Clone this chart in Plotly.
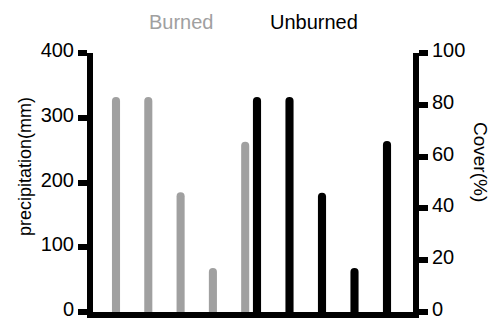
import plotly.graph_objects as go

sites = ["1", "2", "3", "4", "5"]
burned_precip = [332, 332, 185, 68, 263]      # mm, left axis
unburned_cover = [83, 83, 46, 17, 66]         # %, right axis
y_left_ticks = [0, 100, 200, 300, 400]
y_right_ticks = [0, 20, 40, 60, 80, 100]

GRAY = "#a0a0a0"
FONT = "Liberation Sans, Arial, sans-serif"

W, H = 497, 321
ML, MR, MT, MB = 93, 84, 53, 9
pw, ph = W - ML - MR, H - MT - MB

def px_x(x):
    return (x - ML) / pw

def px_y(y):
    return (H - MB - y) / ph

fig = go.Figure()
fig.add_trace(go.Bar(x=sites, y=burned_precip, name="Burned", marker_color=GRAY,
                     marker_line_width=0, width=0.25, xaxis="x", yaxis="y"))
fig.add_trace(go.Bar(x=sites, y=unburned_cover, name="Unburned", marker_color="black",
                     marker_line_width=0, width=0.25, xaxis="x2", yaxis="y2"))

axis_common = dict(showline=True, linewidth=6, linecolor="black", ticks="outside",
                   ticklen=9, tickwidth=6, tickcolor="black", showgrid=False,
                   zeroline=False, tickfont=dict(size=20, family=FONT),
                   ticklabeloverflow="allow", ticklabelshift=-3)

fig.update_layout(
    width=W, height=H,
    margin=dict(l=ML, r=MR, t=MT, b=MB, autoexpand=False),
    paper_bgcolor="white", plot_bgcolor="white",
    font=dict(family=FONT, color="black", size=20),
    showlegend=False,
    barcornerradius=4,
    xaxis=dict(type="category", range=[-0.712, 9.195], showline=True, linewidth=6,
               linecolor="black", ticks="", showticklabels=False, showgrid=False,
               zeroline=False, fixedrange=True),
    xaxis2=dict(type="category", overlaying="x", range=[-5.046, 4.8], visible=False),
    yaxis=dict(range=[0, 400], tickvals=y_left_ticks, **axis_common),
    yaxis2=dict(range=[0, 100], tickvals=y_right_ticks, overlaying="y", side="right",
                **axis_common),
    annotations=[
        dict(text="Burned", x=px_x(181.5), y=px_y(22), xref="paper", yref="paper",
             xanchor="center", yanchor="middle", showarrow=False,
             font=dict(size=20, color=GRAY, family=FONT)),
        dict(text="Unburned", x=px_x(313.5), y=px_y(22), xref="paper", yref="paper",
             xanchor="center", yanchor="middle", showarrow=False,
             font=dict(size=20, color="black", family=FONT)),
        dict(text="precipitation(mm)", x=px_x(25), y=px_y(167), xref="paper", yref="paper",
             xanchor="center", yanchor="middle", showarrow=False, textangle=-90,
             font=dict(size=18, color="black", family=FONT)),
        dict(text="Cover(%)", x=px_x(481), y=px_y(162), xref="paper", yref="paper",
             xanchor="center", yanchor="middle", showarrow=False, textangle=90,
             font=dict(size=19, color="black", family=FONT)),
    ],
)

fig.write_html("out.html", config={"displayModeBar": False},
               post_script="document.body.style.margin='0';")
